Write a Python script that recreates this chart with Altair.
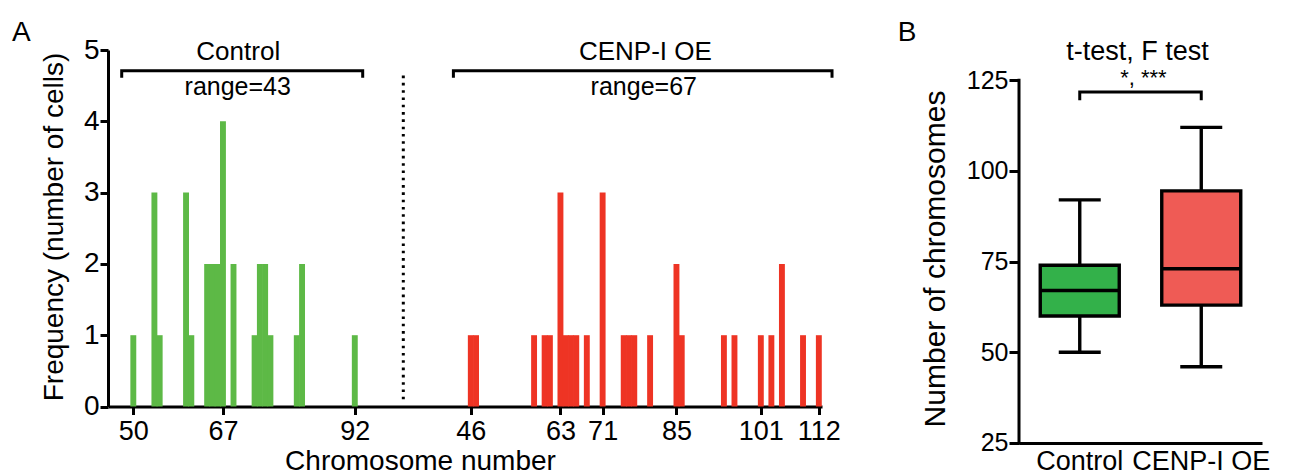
import altair as alt
import pandas as pd

# ---------------- data ----------------
ctrl_vals = [50, 54, 55, 60, 61, 64, 65, 66, 67, 69, 73, 74, 75, 76, 81, 82, 92]
ctrl_counts = [1, 3, 1, 3, 1, 2, 2, 2, 4, 2, 1, 2, 2, 1, 1, 2, 1]
cenp_vals = [46, 47, 58, 60, 61, 63, 64, 65, 66, 68, 71, 75, 76, 77, 80, 85, 86,
             94, 96, 101, 103, 105, 109, 112]
cenp_counts = [1, 1, 1, 1, 1, 3, 1, 1, 1, 1, 3, 1, 1, 1, 1, 2, 1,
               1, 1, 1, 1, 2, 1, 1]
tick_ctrl = [50, 67, 92]
tick_cenp = [46, 63, 71, 85, 101, 112]
groups = ["Control", "CENP-I OE"]
range_labels = ["range=43", "range=67"]

box_min = [50, 46]
box_q1 = [60, 63]
box_med = [67, 73]
box_q3 = [74, 94.5]
box_max = [92, 112]
sig_label = "*, ***"
test_label = "t-test, F test"

# ---------------- style ----------------
FONT = "Liberation Sans, Arial, Helvetica, sans-serif"
GREEN_BAR, RED_BAR = "#5DB946", "#EE3424"
GREEN_BOX, RED_BOX = "#33B14A", "#EF5B55"
OFFSET = 68          # shift of the CENP-I OE block on the broken axis
HALF = 0.56          # half bar width in axis units
BW = 3.4             # box plot stroke width

# ---------------- panel A ----------------
rows = []
for v, c in zip(ctrl_vals, ctrl_counts):
    rows.append({"group": groups[0], "value": v, "count": c, "pos": v, "fill": GREEN_BAR})
for v, c in zip(cenp_vals, cenp_counts):
    rows.append({"group": groups[1], "value": v, "count": c, "pos": v + OFFSET, "fill": RED_BAR})
hist = pd.DataFrame(rows)
hist["lo"] = hist["pos"] - HALF
hist["hi"] = hist["pos"] + HALF
hist["zero"] = 0

xA = alt.Scale(domain=[45.2, 180.6], nice=False, zero=False)
yA = alt.Scale(domain=[0, 5], nice=False, zero=True)

bars = alt.Chart(hist).mark_rect().encode(
    x=alt.X("lo:Q", scale=xA, axis=alt.Axis(
        values=tick_ctrl + [t + OFFSET for t in tick_cenp],
        labelExpr=f"datum.value > 100 ? datum.value - {OFFSET} : datum.value",
        title="Chromosome number", titleX=312, titleY=63, titleAlign="center",
        titleBaseline="alphabetic", titleFontSize=28,
        labelFontSize=27, labelPadding=4, tickSize=8, labelFlush=False,
        labelOverlap=False)),
    x2="hi",
    y=alt.Y("count:Q", scale=yA, axis=alt.Axis(
        values=[0, 1, 2, 3, 4, 5], format="d", title="Frequency (number of cells)",
        titleX=-46, titleY=176.5, titleAngle=270, titleAlign="center",
        titleBaseline="alphabetic", titleFontSize=28,
        labelFontSize=28, labelPadding=1, tickSize=8, labelFlush=False)),
    y2="zero",
    color=alt.Color("fill:N", scale=None),
)

brk = pd.DataFrame({
    "g": [0, 0, 0, 0, 1, 1, 1, 1],
    "o": [0, 1, 2, 3, 0, 1, 2, 3],
    "x": [47.8, 47.8, 93.5, 93.5, 110.7, 110.7, 182.5, 182.5],
    "y": [4.61, 4.71, 4.71, 4.61, 4.61, 4.71, 4.71, 4.61],
})
brackets = alt.Chart(brk).mark_line(color="black", strokeWidth=3, strokeJoin="miter").encode(
    x=alt.X("x:Q", scale=xA), y=alt.Y("y:Q", scale=yA), detail="g:N", order="o:Q")

lab = pd.DataFrame({
    "x": [69.9, 69.8, 147.1, 146.8],
    "y": [4.857, 4.366, 4.857, 4.366],
    "t": [groups[0], range_labels[0], groups[1], range_labels[1]],
    "fs": [26, 25, 26, 25],
})
labels = alt.Chart(lab).mark_text(baseline="alphabetic", align="center", color="black").encode(
    x=alt.X("x:Q", scale=xA), y=alt.Y("y:Q", scale=yA), text="t:N",
    size=alt.Size("fs:Q", scale=None))

div = pd.DataFrame({"x": [101.2], "y": [0.1], "y2": [4.68]})
divider = alt.Chart(div).mark_rule(color="black", strokeWidth=3, strokeDash=[2.6, 4.7]).encode(
    x=alt.X("x:Q", scale=xA), y=alt.Y("y:Q", scale=yA), y2="y2")

letterA = alt.Chart(pd.DataFrame({"a": [0]})).mark_text(
    text="A", align="left", baseline="alphabetic", fontSize=28, color="black").encode(
    x=alt.value(-96), y=alt.value(-8.8))

left = alt.layer(bars, brackets, labels, divider, letterA).properties(width=714, height=356.5)

# ---------------- panel B ----------------
box = pd.DataFrame({"group": groups, "mn": box_min, "q1": box_q1, "med": box_med,
                    "q3": box_q3, "mx": box_max, "fill": [GREEN_BOX, RED_BOX]})
xBs = alt.Scale(domain=groups, paddingInner=0, paddingOuter=0)
yBs = alt.Scale(domain=[25, 133.33], nice=False, zero=False)
xB = alt.X("group:N", scale=xBs, sort=groups, axis=alt.Axis(
    title=None, labelAngle=0, labelFontSize=27, labelPadding=6, ticks=False, tickSize=0))
yB = alt.Y("q1:Q", scale=yBs, axis=alt.Axis(
    values=[25, 50, 75, 100, 125], domain=False, tickSize=10, labelFontSize=25,
    labelPadding=1, title="Number of chromosomes", titleFontSize=30, titleX=-75,
    titleY=208.5, titleAngle=270, titleAlign="center", titleBaseline="alphabetic"))

whisk = alt.Chart(box).mark_rule(color="black", strokeWidth=BW).encode(
    x=xB, y=alt.Y("mn:Q", scale=yBs), y2="mx")
boxes = alt.Chart(box).mark_bar(size=79, stroke="black", strokeWidth=BW).encode(
    x=xB, y=yB, y2="q3", fill=alt.Fill("fill:N", scale=None))
med = alt.Chart(box).mark_tick(size=79, thickness=BW, color="black", opacity=1).encode(
    x=xB, y=alt.Y("med:Q", scale=yBs))
cap_lo = alt.Chart(box).mark_tick(size=42, thickness=BW, color="black", opacity=1).encode(
    x=xB, y=alt.Y("mn:Q", scale=yBs))
cap_hi = alt.Chart(box).mark_tick(size=42, thickness=BW, color="black", opacity=1).encode(
    x=xB, y=alt.Y("mx:Q", scale=yBs))

yaxis_line = alt.Chart(pd.DataFrame({"lo": [25], "hi": [125]})).mark_rule(
    color="black", strokeWidth=3, strokeCap="square").encode(
    x=alt.value(0), y=alt.Y("lo:Q", scale=yBs), y2="hi")

sig = pd.DataFrame({"group": [groups[0], groups[0], groups[1], groups[1]],
                    "y": [119.46, 121.75, 121.75, 119.46], "o": [0, 1, 2, 3]})
sig_br = alt.Chart(sig).mark_line(color="black", strokeWidth=3, strokeJoin="miter").encode(
    x=xB, y=alt.Y("y:Q", scale=yBs), order="o:Q")

sig_txt = alt.Chart(pd.DataFrame({"y": [123.6]})).mark_text(
    text=sig_label, fontSize=22, align="center", baseline="alphabetic", color="black").encode(
    x=alt.value(124.4), y=alt.Y("y:Q", scale=yBs))
test_txt = alt.Chart(pd.DataFrame({"y": [130.7]})).mark_text(
    text=test_label, fontSize=27, align="center", baseline="alphabetic", color="black").encode(
    x=alt.value(118.4), y=alt.Y("y:Q", scale=yBs))
letterB = alt.Chart(pd.DataFrame({"a": [0]})).mark_text(
    text="B", align="left", baseline="alphabetic", fontSize=28, color="black").encode(
    x=alt.value(-121.3), y=alt.value(-8.8))

right = alt.layer(whisk, boxes, med, cap_lo, cap_hi, yaxis_line, sig_br, sig_txt,
                  test_txt, letterB).properties(width=243, height=392.9)

chart = alt.hconcat(left, right, spacing=56).properties(
    padding={"left": 4, "top": 11, "right": 0, "bottom": 0}
).configure(font=FONT).configure_view(stroke=None).configure_axis(
    domainColor="black", domainWidth=3, tickColor="black", tickWidth=3,
    labelColor="black", titleColor="black", titleFontWeight="normal", grid=False,
    labelFont=FONT, titleFont=FONT)

chart.save("out.html", embed_options={"renderer": "svg", "actions": False})
